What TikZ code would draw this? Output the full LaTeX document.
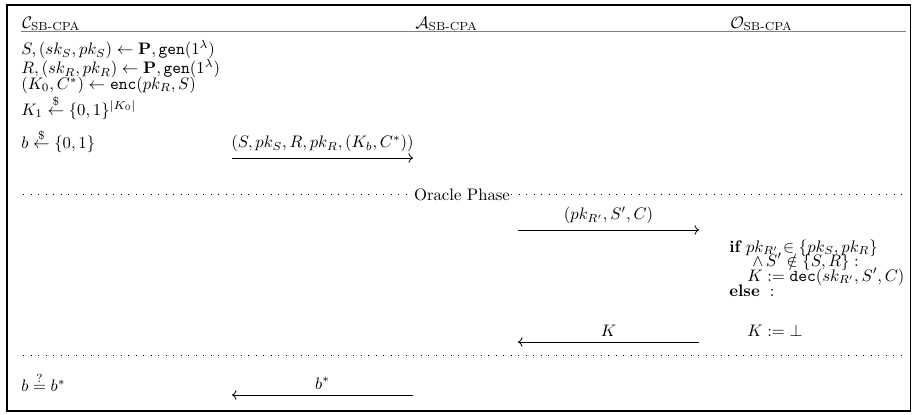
\documentclass[tikz,border=0pt]{standalone}
\usepackage{amsmath}
\usepackage{amssymb}
\usetikzlibrary{arrows.meta,positioning}
\newcommand{\sbcpa}{\text{SB-CPA}}
\newcommand{\fn}[1]{\mathtt{#1}}

\begin{document}
\begin{tikzpicture}[x=0.6pt, y=-0.6pt,
  party/.style={anchor=west, inner sep=0pt},
  codeline/.style={anchor=west, inner sep=0pt},
  oline/.style={anchor=base west, inner sep=0pt},
  msg/.style={-{To}, line width=0.5pt},
  phaseline/.style={line width=0.6pt, dash pattern=on 0.6pt off 3.9pt}]
\useasboundingbox (0,0) rectangle (912,415);
\draw[line width=0.8pt] (7,5) rectangle (910.5,411);
% parties
\node (chal) [party] at (22,24) {$\mathcal{C}_{\sbcpa}$};
\node (adv) [party] at (415,24) {$\mathcal{A}_{\sbcpa}$};
\node (orc) [party] at (730,24) {$\mathcal{O}_{\sbcpa}$};
\coordinate (hl) at (21,31.5);
\coordinate (hr) at (906,31.5);
\draw[gray, line width=0.9pt] (hl) -- (hr);
% challenger setup
\node (c1) [codeline] at (21,50)
  {$S, (sk_S, pk_S) \leftarrow \mathbf{P}, \fn{gen}(1^\lambda)$};
\node (c2) [codeline] at (21,69)
  {$R, (sk_R, pk_R) \leftarrow \mathbf{P}, \fn{gen}(1^\lambda)$};
\node (c3) [codeline] at (21,85)
  {$(K_0, C^*) \leftarrow \fn{enc}(pk_R, S)$};
\node (c4) [codeline] at (21,107.5)
  {$K_1 \overset{\$}{\leftarrow} \{0,1\}^{|K_0|}$};
\node (c5) [codeline] at (21,141)
  {$b \overset{\$}{\leftarrow} \{0,1\}$};
\coordinate (m1s) at (232,158);
\coordinate (m1e) at (413,158);
\draw[msg] (m1s) -- node[above] {$(S, pk_S, R, pk_R, (K_b, C^*))$} (m1e);
% oracle phase
\node (phase) [inner sep=0.5pt] at (462,195) {Oracle Phase};
\coordinate (d1l) at (23,195);
\coordinate (d1r) at (903,195);
\draw[phaseline] (d1l) -- (phase.west);
\draw[phaseline] (phase.east) -- (d1r);
\coordinate (m2s) at (518,230);
\coordinate (m2e) at (699,230);
\draw[msg] (m2s) -- node[above] {$(pk_{R'}, S', C)$} (m2e);
\node (o1) [oline] at (729,252)
  {$\textbf{if}\ pk_{R'} \in \{pk_S, pk_R\}$};
\node (o2) [oline] at (752,266) {$\wedge\, S' \notin \{S, R\} :$};
\node (o3) [oline] at (747,281)
  {$K := \fn{dec}(sk_{R'}, S', C)$};
\node (o4) [oline] at (729,296) {$\textbf{else}\ :$};
\node (o5) [oline] at (747,336) {$K := \bot$};
\coordinate (m3s) at (699,342);
\coordinate (m3e) at (518,342);
\draw[msg] (m3s) -- node[above] {$K$} (m3e);
\coordinate (d2l) at (23,355);
\coordinate (d2r) at (903,355);
\draw[phaseline] (d2l) -- (d2r);
% guess
\node (c6) [codeline] at (21,382) {$b \overset{?}{=} b^*$};
\coordinate (m4s) at (413,395);
\coordinate (m4e) at (232,395);
\draw[msg] (m4s) -- node[above] {$b^*$} (m4e);
\end{tikzpicture}
\end{document}
